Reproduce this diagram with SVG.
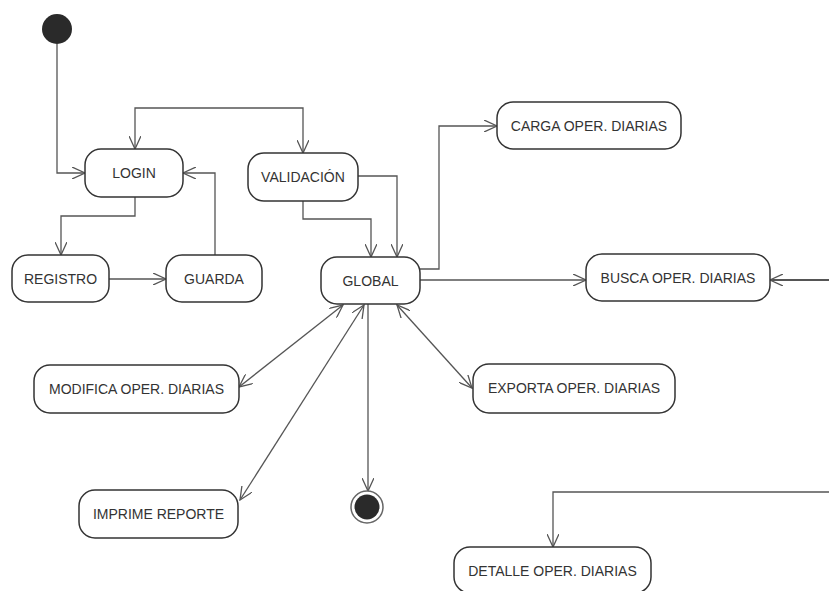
<svg xmlns="http://www.w3.org/2000/svg" width="829" height="591" viewBox="0 0 829 591">
<defs>
<marker id="arr" viewBox="0 0 14 12" refX="13" refY="6" markerWidth="14" markerHeight="12" markerUnits="userSpaceOnUse" orient="auto-start-reverse">
<path d="M0,0 L13,6 L0,12" fill="none" stroke="#555" stroke-width="1.3"/>
</marker>
<style>
.n rect{fill:#fff;stroke:#333;stroke-width:1.5}
.n text{font-family:"Liberation Sans",Arial,sans-serif;font-size:14px;fill:#333;text-anchor:middle}
.c path{fill:none;stroke:#555;stroke-width:1.3}
.e{marker-end:url(#arr)}
.b{marker-start:url(#arr);marker-end:url(#arr)}
</style>
</defs>
<rect width="829" height="591" fill="#fff"/>
<g id="connectors" class="c">
<path class="e" d="M57,44 V173 H85"/>
<path class="b" d="M135,149 V108 H303 V153"/>
<path class="e" d="M135,197 V216 H61 V255"/>
<path class="e" d="M109,279 H166"/>
<path class="e" d="M215,255 V173 H183"/>
<path class="e" d="M303,201 V219 H371 V257"/>
<path class="e" d="M358,176 H397 V257"/>
<path class="e" d="M420,269 H439 V126 H497"/>
<path class="e" d="M420,280 H586"/>
<path class="e" d="M829,280 H770" style="stroke-width:2"/>
<path class="b" d="M343,305 L239,387"/>
<path class="b" d="M364,305 L240,500"/>
<path class="b" d="M397,305 L472,388"/>
<path class="e" d="M368,304 V491"/>
<path class="e" d="M829,492 H553 V547"/>
</g>
<g id="start"><circle cx="57" cy="29" r="15" fill="#2a2a2a"/></g>
<g id="end"><circle cx="367" cy="507" r="16" fill="#fff" stroke="#666" stroke-width="1.5"/><circle cx="367" cy="507" r="12.5" fill="#2a2a2a"/></g>
<g id="login" class="n"><rect x="85" y="149" width="98" height="48" rx="16"/><text x="134" y="178">LOGIN</text></g>
<g id="validacion" class="n"><rect x="248" y="153" width="110" height="48" rx="16"/><text x="303" y="182">VALIDACIÓN</text></g>
<g id="registro" class="n"><rect x="12" y="255" width="97" height="47" rx="16"/><text x="60.5" y="284">REGISTRO</text></g>
<g id="guarda" class="n"><rect x="166" y="255" width="96" height="47" rx="16"/><text x="214" y="284">GUARDA</text></g>
<g id="global" class="n"><rect x="321" y="257" width="99" height="47" rx="16"/><text x="370.5" y="286">GLOBAL</text></g>
<g id="carga" class="n"><rect x="497" y="102" width="184" height="47" rx="16"/><text x="589" y="131">CARGA OPER. DIARIAS</text></g>
<g id="busca" class="n"><rect x="586" y="254" width="184" height="47" rx="16"/><text x="678" y="283">BUSCA OPER. DIARIAS</text></g>
<g id="modifica" class="n"><rect x="34" y="365" width="205" height="48" rx="16"/><text x="136.5" y="394">MODIFICA OPER. DIARIAS</text></g>
<g id="exporta" class="n"><rect x="473" y="364" width="202" height="49" rx="16"/><text x="574" y="393">EXPORTA OPER. DIARIAS</text></g>
<g id="imprime" class="n"><rect x="79" y="490" width="159" height="48" rx="16"/><text x="158.5" y="519">IMPRIME REPORTE</text></g>
<g id="detalle" class="n"><rect x="454" y="547" width="197" height="46" rx="16"/><text x="552.5" y="576">DETALLE OPER. DIARIAS</text></g>
</svg>
